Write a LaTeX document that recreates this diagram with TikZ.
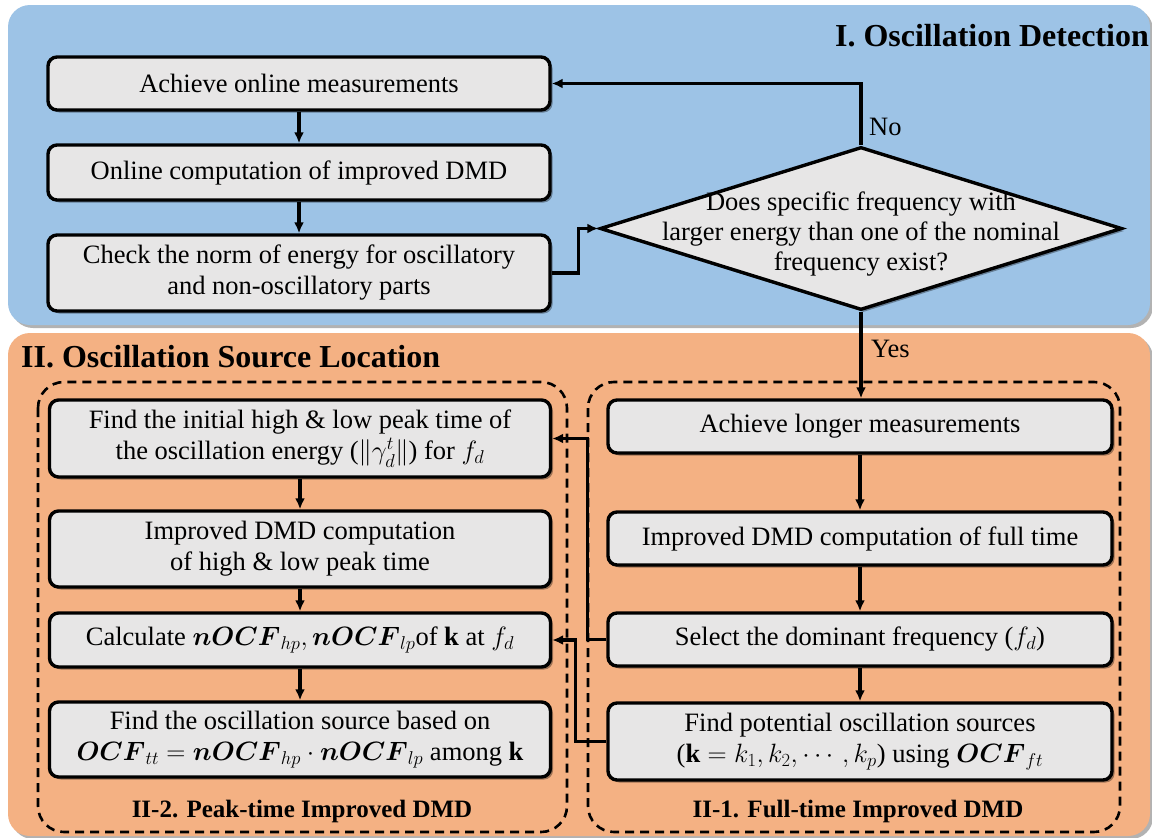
\RequirePackage{fix-cm}
\documentclass[tikz,border=0pt]{standalone}
\usepackage{amsmath,amssymb}
\usepackage{fontspec}
\setmainfont{Liberation Serif}[Ligatures=TeX]
\newfontfamily\flowfont{Liberation Serif}
\usetikzlibrary{shapes.geometric,shadows,arrows.meta}

\definecolor{panelblue}{HTML}{9DC3E6}
\definecolor{panelorange}{HTML}{F4B183}
\definecolor{boxgray}{HTML}{E7E6E6}

\begin{document}
\begin{tikzpicture}[x=1pt,y=-1pt,
  txt/.style={font=\flowfont\fontsize{26.5}{31}\selectfont},
  softshadow/.style={drop shadow={shadow xshift=2.5pt,shadow yshift=-2.5pt,opacity=0.35,fill=black}},
  box/.style={draw=black,line width=3.4pt,fill=boxgray,rounded corners=9pt,
    minimum width=502pt,align=center,inner sep=0pt,txt,softshadow},
  panel/.style={rounded corners=22pt,drop shadow={shadow xshift=3pt,shadow yshift=-3pt,opacity=0.3,fill=black}},
  dashbox/.style={draw=black,line width=2.6pt,dash pattern=on 9pt off 6pt,rounded corners=26pt},
  arr/.style={draw=black,line width=3.2pt,-{Latex[length=11pt,width=10pt]}},
  sectitle/.style={font=\flowfont\bfseries\fontsize{32}{36}\selectfont,inner sep=0pt},
  subtitle/.style={font=\flowfont\bfseries\fontsize{25}{29}\selectfont,inner sep=0pt}]

\useasboundingbox (0,0) rectangle (1152,838);
\fill[white] (0,0) rectangle (1152,838);

% background panels
\fill[panelblue,panel] (8,5) rectangle (1150,325);
\fill[panelorange,panel] (8,333) rectangle (1150,836);

% panel titles
\node[sectitle,anchor=base east] (t1) at (1149,46) {I. Oscillation Detection};
\node[sectitle,anchor=base west] (t2) at (21,367) {II. Oscillation Source Location};

% dashed groups
\draw[dashbox] (38,382) rectangle (567,832);
\draw[dashbox] (588,382) rectangle (1120,832);
\node[subtitle,anchor=base] (g2) at (302,817) {II-2. Peak-time Improved DMD};
\node[subtitle,anchor=base] (g1) at (858,817) {II-1. Full-time Improved DMD};

% detection stage
\node[box,minimum height=53pt] (b1) at (299,83.5) {Achieve online measurements};
\node[box,minimum height=55pt] (b2) at (299,172.5) {Online computation of improved DMD};
\node[box,minimum height=76pt] (b3) at (299,273) {Check the norm of energy for oscillatory\\and non-oscillatory parts};

\node[diamond,draw=black,line width=3.4pt,fill=boxgray,inner sep=0pt,
  minimum width=522pt,minimum height=163pt,softshadow] (d) at (861,228.5) {};
\node[align=center,inner sep=0pt,font=\flowfont\fontsize{26.5}{30}\selectfont] (dq) at (861,234)
  {Does specific frequency with\\larger energy than one of the nominal\\frequency exist?};

% full-time stage
\node[box,minimum width=504pt,minimum height=53pt] (r1) at (860,426.5) {Achieve longer measurements};
\node[box,minimum width=504pt,minimum height=53pt] (r2) at (860,538.5) {Improved DMD computation of full time};
\node[box,minimum width=504pt,minimum height=53pt] (r3) at (860,639.5) {Select the dominant frequency ($f_d$)};
\node[box,minimum width=504pt,minimum height=77pt] (r4) at (860,741.5)
  {Find potential oscillation sources\\($\mathbf{k}=k_1,k_2,\cdots,k_p$) using $\boldsymbol{OCF}_{ft}$};

% peak-time stage
\node[box,minimum width=501pt,minimum height=77pt] (l1) at (300,438.5)
  {Find the initial high \& low peak time of\\the oscillation energy ($\left\|\gamma_d^t\right\|$) for $f_d$};
\node[box,minimum width=501pt,minimum height=76pt] (l2) at (300,549)
  {Improved DMD computation\\of high \& low peak time};
\node[box,minimum width=501pt,minimum height=54pt] (l3) at (300,640)
  {Calculate $\boldsymbol{nOCF}_{hp},\boldsymbol{nOCF}_{lp}$of $\mathbf{k}$ at $f_d$};
\node[box,minimum width=501pt,minimum height=75pt] (l4) at (300,739.5)
  {Find the oscillation source based on\\$\boldsymbol{OCF}_{tt}=\boldsymbol{nOCF}_{hp}\cdot\boldsymbol{nOCF}_{lp}$ among $\mathbf{k}$};

% connectors
\draw[arr] (b1) -- (b2);
\draw[arr] (b2) -- (b3);
\draw[arr] (b3.east) -- ++(27,0) |- (d.west);
\draw[arr] (d.north) |- (b1.east);
\node[txt,anchor=base west,inner sep=0pt] (no) at (869,135) {No};
\draw[arr] (d.south) -- (d.south |- r1.north);
\node[txt,anchor=base west,inner sep=0pt] (yes) at (871,357) {Yes};

\draw[arr] (r1) -- (r2);
\draw[arr] (r2) -- (r3);
\draw[arr] (r3) -- (r4);

\draw[arr] (l1) -- (l2);
\draw[arr] (l2) -- (l3);
\draw[arr] (l3) -- (l4);

\draw[arr] (r3.west) -- ++(-19,0) |- (l1.east);
\draw[arr] (r4.west) -- ++(-31,0) |- (l3.east);

\end{tikzpicture}
\end{document}
